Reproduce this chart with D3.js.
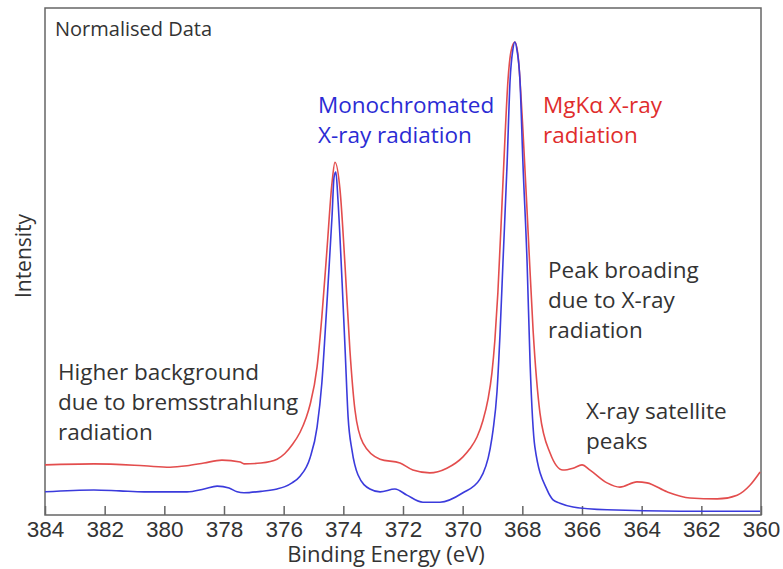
<!DOCTYPE html>
<html>
<head>
<meta charset="utf-8">
<script src="https://cdn.jsdelivr.net/npm/d3@7"></script>
<style>
  body { margin: 0; background: #fff; }
  svg { display: block; font-family: "Open Sans", sans-serif; }
  .axis text { font-size: 22.5px; fill: #333; }
  .axis path, .axis line { stroke: #666; stroke-width: 1.5; }
  .note { font-size: 22.5px; fill: #333; }
</style>
</head>
<body>
<svg width="783" height="569"></svg>
<script>
// binding energy ticks (eV), axis runs high -> low
var ticks = [384, 382, 380, 378, 376, 374, 372, 370, 368, 366, 364, 362, 360];

// monochromated source
var monoEnergy = [384.00, 382.36, 381.50, 380.68, 379.81, 379.24, 378.67, 378.23, 377.83, 377.56, 377.33,
  376.76, 376.22, 375.96, 375.72, 375.45, 375.12, 374.88, 374.72, 374.61, 374.51, 374.38, 374.31, 374.25, 374.18,
  374.04, 373.94, 373.84, 373.71, 373.51, 373.11, 372.77, 372.27, 371.87, 371.33, 370.76, 369.99,
  369.42, 369.08, 368.98, 368.85, 368.75, 368.65, 368.51, 368.41, 368.32, 368.25, 368.18, 368.08, 367.98,
  367.84, 367.74, 367.58, 367.17, 366.97, 366.74, 366.30, 365.16, 362.70, 360.03];
var monoCounts = [0.049, 0.053, 0.051, 0.049, 0.049, 0.049, 0.055, 0.061, 0.057, 0.049, 0.047,
  0.050, 0.055, 0.060, 0.068, 0.082, 0.120, 0.186, 0.279, 0.385, 0.490, 0.630, 0.715, 0.725, 0.666,
  0.490, 0.349, 0.207, 0.137, 0.085, 0.055, 0.049, 0.055, 0.042, 0.027, 0.027, 0.047,
  0.076, 0.140, 0.180, 0.260, 0.380, 0.533, 0.744, 0.920, 0.983, 1.000, 0.983, 0.920, 0.744,
  0.533, 0.321, 0.144, 0.053, 0.032, 0.025, 0.017, 0.011, 0.008, 0.008];

// MgKa source
var mgEnergy = [384.00, 382.36, 380.68, 379.81, 379.24, 378.67, 378.07, 377.46, 377.33, 376.76,
  376.22, 375.96, 375.72, 375.45, 375.25, 375.12, 374.88, 374.72, 374.55, 374.38, 374.28, 374.11,
  373.94, 373.78, 373.61, 373.34, 372.77, 372.10, 371.67, 371.10, 370.53, 369.99, 369.76, 369.52,
  369.32, 369.15, 369.02, 368.92, 368.82, 368.68, 368.58, 368.48, 368.38, 368.25, 368.15, 367.98, 367.81,
  367.64, 367.41, 367.07, 366.64, 366.30, 366.00, 365.73, 365.16, 364.73, 364.16, 363.82,
  363.15, 362.38, 361.47, 360.80, 360.37, 360.03];
var mgCounts = [0.106, 0.108, 0.104, 0.101, 0.104, 0.110, 0.116, 0.112, 0.108, 0.110,
  0.118, 0.130, 0.148, 0.175, 0.205, 0.232, 0.313, 0.419, 0.560, 0.702, 0.746, 0.687,
  0.524, 0.349, 0.222, 0.152, 0.118, 0.110, 0.095, 0.089, 0.099, 0.123, 0.140, 0.165,
  0.200, 0.245, 0.300, 0.370, 0.470, 0.660, 0.800, 0.920, 0.980, 1.000, 0.975, 0.814, 0.603,
  0.391, 0.216, 0.131, 0.095, 0.099, 0.106, 0.095, 0.068, 0.059, 0.070, 0.068,
  0.049, 0.036, 0.034, 0.042, 0.063, 0.091];

var svg = d3.select("svg"),
margin = {top: 8, right: 22, bottom: 54, left: 45},
width = +svg.attr("width") - margin.left - margin.right,
height = +svg.attr("height") - margin.top - margin.bottom;

var x = d3.scaleLinear().domain([384, 360]).range([0, width]),
y = d3.scaleLinear().domain([0, 1.072]).range([height, 0]);

var g = svg.append("g")
.attr("transform", "translate(" + margin.left + "," + margin.top + ")");

g.append("clipPath").attr("id", "plot")
  .append("rect").attr("width", width).attr("height", height);

// box
g.append("rect")
  .attr("width", width)
  .attr("height", height)
  .attr("fill", "none")
  .attr("stroke", "#666")
  .attr("stroke-width", 1.5);

g.append("g")
  .attr("class", "axis")
  .attr("transform", "translate(0," + height + ")")
  .call(d3.axisBottom(x).tickValues(ticks).tickSizeInner(-9).tickSizeOuter(0).tickPadding(6))
  .call(function(a) { a.select(".domain").remove(); });

var line = d3.line()
  .x(function(d) { return x(d[0]); })
  .y(function(d) { return y(d[1]); })
  .curve(d3.curveMonotoneX);

var series = [
  {e: mgEnergy, c: mgCounts, color: "#e34d4d"},
  {e: monoEnergy, c: monoCounts, color: "#3b3bdc"}
];

g.selectAll(".spectrum")
  .data(series)
  .enter().append("path")
    .attr("class", "spectrum")
    .attr("clip-path", "url(#plot)")
    .attr("fill", "none")
    .attr("stroke", function(s) { return s.color; })
    .attr("stroke-width", 1.6)
    .attr("d", function(s) { return line(s.e.map(function(v, i) { return [v, s.c[i]]; })); });

// axis titles
svg.append("text")
  .attr("x", 386).attr("y", 562)
  .attr("text-anchor", "middle")
  .attr("font-size", 22).attr("fill", "#333")
  .text("Binding Energy (eV)");

svg.append("text")
  .attr("transform", "translate(31,256) rotate(-90)")
  .attr("text-anchor", "middle")
  .attr("font-size", 21).attr("fill", "#333")
  .text("Intensity");

svg.append("text")
  .attr("x", 55).attr("y", 36)
  .attr("font-size", 20).attr("fill", "#333")
  .text("Normalised Data");

var notes = [
  {x: 318, y: 113, lines: ["Monochromated", "X-ray radiation"], color: "#2b2bd4"},
  {x: 543, y: 113, lines: ["MgK\u03b1 X-ray", "radiation"], color: "#e02c2c"},
  {x: 548, y: 278, lines: ["Peak broading", "due to X-ray", "radiation"], color: "#333"},
  {x: 58, y: 380, lines: ["Higher background", "due to bremsstrahlung", "radiation"], color: "#333"},
  {x: 586, y: 419, lines: ["X-ray satellite", "peaks"], color: "#333"}
];

notes.forEach(function(n) {
  var t = svg.append("text")
    .attr("class", "note")
    .attr("x", n.x).attr("y", n.y)
    .style("fill", n.color);
  n.lines.forEach(function(s, i) {
    t.append("tspan").attr("x", n.x).attr("dy", i ? 30 : 0).text(s);
  });
});
</script>
</body>
</html>
